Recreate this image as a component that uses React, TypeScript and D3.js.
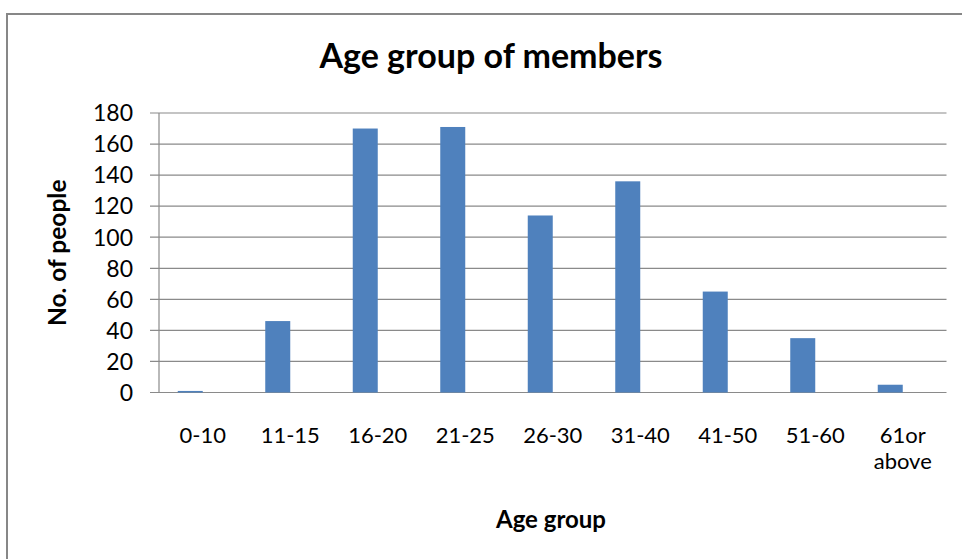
import React from "react";
import * as d3 from "d3";

const categories = ["0-10", "11-15", "16-20", "21-25", "26-30", "31-40", "41-50", "51-60", "61or above"];
const categoryLines = [["0-10"], ["11-15"], ["16-20"], ["21-25"], ["26-30"], ["31-40"], ["41-50"], ["51-60"], ["61or", "above"]];
const values = [1, 46, 170, 171, 114, 136, 65, 35, 5];
const yTicks = [0, 20, 40, 60, 80, 100, 120, 140, 160, 180];
const seriesSlots = ["people", "empty"];
const title = "Age group of members";
const yTitle = "No. of people";
const xTitle = "Age group";

const W = 962;
const H = 559;
const plot = { left: 159, right: 946.5, top: 113, bottom: 392.5 };
const FONT = "Lato, 'Open Sans', sans-serif";

export default function App() {
  const x = d3.scaleBand<string>().domain(categories).range([plot.left, plot.right]).padding(0);
  const inner = d3
    .scaleBand<string>()
    .domain(seriesSlots)
    .range([0, x.bandwidth()])
    .paddingInner(0)
    .paddingOuter(0.75);
  const y = d3.scaleLinear().domain([0, 180]).range([plot.bottom, plot.top]);

  return (
    <svg
      width={W}
      height={H}
      style={{ position: "absolute", left: 0, top: 0, background: "#fff" }}
      fontFamily={FONT}
    >
      <rect x={0} y={0} width={W} height={H} fill="#fff" />
      <rect x={7} y={14} width={1000} height={700} fill="none" stroke="#878787" strokeWidth={2} />
      <text x={491} y={68} textAnchor="middle" fontSize={34} fontWeight="bold" fill="#000">
        {title}
      </text>
      {yTicks.map((t) => (
        <g key={t}>
          <line x1={plot.left - 9} x2={plot.right} y1={y(t)} y2={y(t)} stroke="#8a8a8a" strokeWidth={1.2} />
          <text x={133} y={y(t)} dy="0.36em" textAnchor="end" fontSize={23} fill="#000">
            {t}
          </text>
        </g>
      ))}
      <line x1={plot.left} x2={plot.left} y1={plot.top} y2={plot.bottom} stroke="#8a8a8a" strokeWidth={1.2} />
      {categories.map((c, i) => (
        <rect
          key={c}
          x={(x(c) ?? 0) + (inner("people") ?? 0)}
          y={y(values[i])}
          width={inner.bandwidth()}
          height={plot.bottom - y(values[i])}
          fill="#4F81BD"
        />
      ))}
      {categories.map((c, i) => {
        const cx = (x(c) ?? 0) + x.bandwidth() / 2;
        return categoryLines[i].map((w, k) => (
          <text key={c + k} x={cx} y={443 + k * 26} textAnchor="middle" fontSize={22} fill="#000">
            {w}
          </text>
        ));
      })}
      <text
        transform={`translate(66,${(plot.top + plot.bottom) / 2}) rotate(-90)`}
        textAnchor="middle"
        fontSize={24.5}
        fontWeight="bold"
        fill="#000"
      >
        {yTitle}
      </text>
      <text x={551} y={528} textAnchor="middle" fontSize={24} fontWeight="bold" fill="#000">
        {xTitle}
      </text>
    </svg>
  );
}
